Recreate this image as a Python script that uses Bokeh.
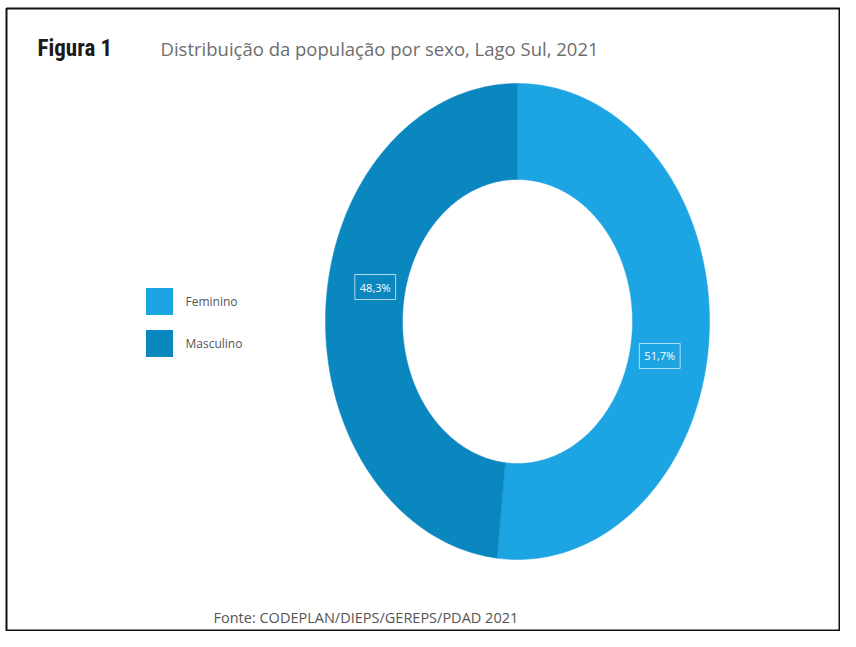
import numpy as np
from bokeh.plotting import figure
from bokeh.models import Range1d, ColumnDataSource, Label
from bokeh.core.properties import value
from bokeh.embed import file_html
from bokeh.resources import INLINE

# ---- data ----
categories = ["Feminino", "Masculino"]
shares = [51.7, 48.3]
share_labels = ["51,7%", "48,3%"]
colors = ["#1da4e3", "#0b87c0"]
title_fig = "Figura 1"
title_txt = "Distribuição da população por sexo, Lago Sul, 2021"
source_txt = "Fonte: CODEPLAN/DIEPS/GEREPS/PDAD 2021"

W, H = 840, 631
L, T = 6, 8
p = figure(width=W, height=H, x_range=Range1d(L, W), y_range=Range1d(H, T),
           output_backend="svg", toolbar_location=None,
           min_border_left=L, min_border_top=T, min_border_right=0, min_border_bottom=0,
           x_axis_location=None, y_axis_location=None)
p.grid.visible = False
p.outline_line_color = "#111111"
p.outline_line_width = 2
p.background_fill_color = "white"

# donut geometry (screen-like units, y downward)
cx, cy = 517, 321
rxo, ryo = 192, 238
rxi, ryi = 115, 142

fr = np.array(shares) / np.sum(shares)
ends = np.pi / 2 - 2 * np.pi * np.cumsum(fr)
starts = np.concatenate([[np.pi / 2], ends[:-1]])
xs, ys = [], []
for a0, a1 in zip(starts, ends):
    t = np.linspace(a0, a1, 200)
    xo = cx + rxo * np.cos(t); yo = cy - ryo * np.sin(t)
    xi = cx + rxi * np.cos(t[::-1]); yi = cy - ryi * np.sin(t[::-1])
    xs.append(list(np.concatenate([xo, xi])))
    ys.append(list(np.concatenate([yo, yi])))
p.patches(xs=xs, ys=ys, fill_color=colors, line_color=colors, line_width=0.5)

mids = (starts + ends) / 2 - np.deg2rad(8)
lr = 0.755
lab = ColumnDataSource(dict(x=cx + lr * rxo * np.cos(mids), y=cy - lr * ryo * np.sin(mids), t=share_labels))
p.text(x="x", y="y", text="t", source=lab, text_color="white", text_font=value("Open Sans"),
       text_font_size="11px", text_align="center", text_baseline="middle",
       border_line_color="#d8eef8", border_line_alpha=0.8, border_line_width=1, padding=5)

# legend
ly = np.array([301, 343])
p.rect(x=[159] * len(categories), y=ly, width=27, height=27, fill_color=colors, line_color=None)
leg = ColumnDataSource(dict(x=[185] * len(categories), y=ly, t=categories))
p.text(x="x", y="y", text="t", source=leg, text_color="#555555", text_font=value("Open Sans"),
       text_font_size="12px", text_align="left", text_baseline="middle")

# titles
p.add_layout(Label(x=37, y=48, text=title_fig,
                   text_font="Roboto Condensed, DejaVu Sans Condensed, Liberation Sans Narrow, Roboto, sans-serif",
                   text_font_style="bold", text_font_size="23px", text_color="#1a1a1a", text_baseline="middle"))
p.add_layout(Label(x=160, y=48, text=title_txt, text_font="Open Sans",
                   text_font_size="18.5px", text_color="#6e6e6e", text_baseline="middle"))
p.add_layout(Label(x=213, y=617, text=source_txt, text_font="Open Sans",
                   text_font_size="14.5px", text_color="#555555", text_baseline="middle"))

open("out.html", "w").write(file_html(p, INLINE))
